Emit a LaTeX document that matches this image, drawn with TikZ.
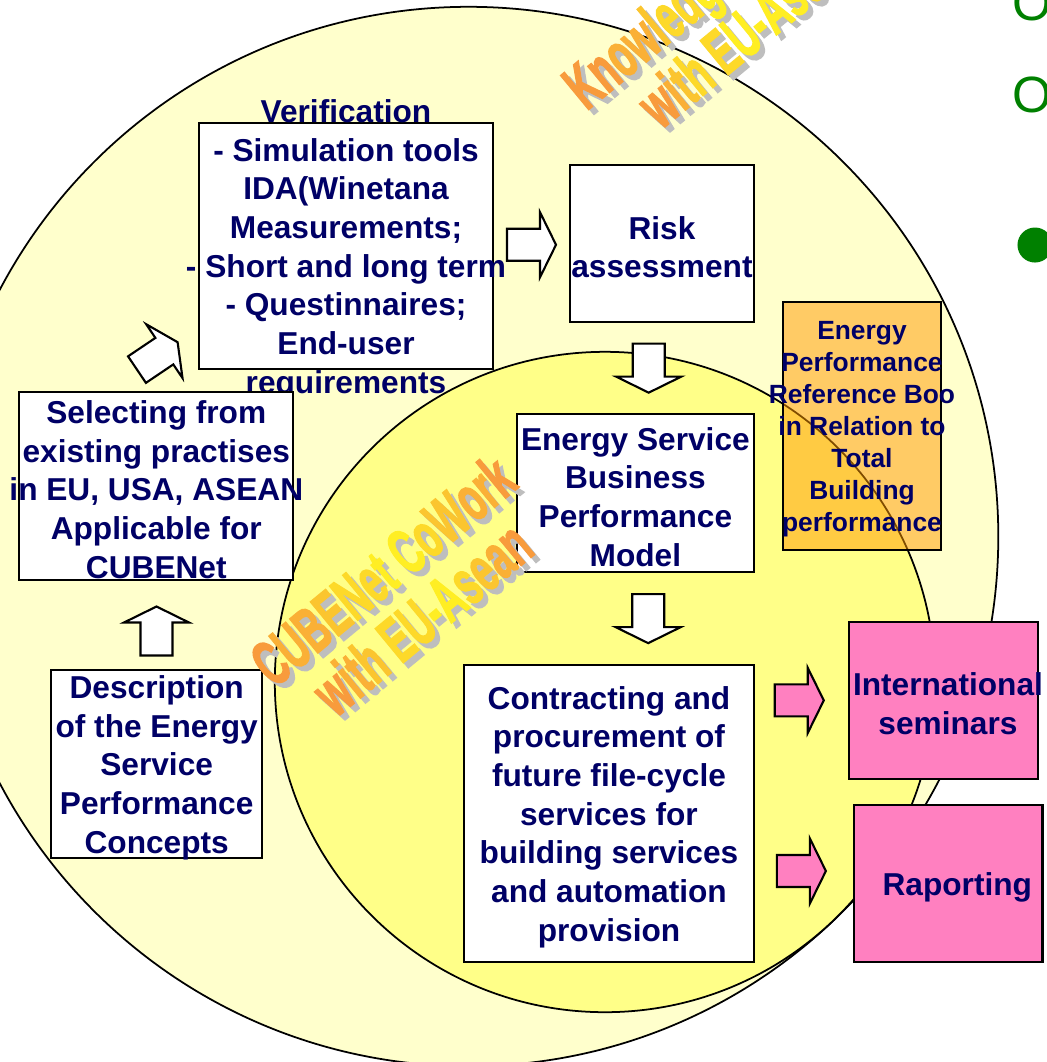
\documentclass[tikz,border=0pt]{standalone}
\usepackage{fontspec}
\setmainfont{Liberation Sans}
\newfontfamily\wmfont{Liberation Sans}[UprightFont=* Bold, FakeBold=2.5]
\usepackage{xcolor}
\usepackage{tikz}
\usetikzlibrary{calc}

\definecolor{navytext}{RGB}{0,0,102}
\definecolor{paleyellow}{RGB}{255,255,204}
\definecolor{midyellow}{RGB}{255,255,136}
\definecolor{pinkbox}{RGB}{255,128,192}
\definecolor{orangebox}{RGB}{255,153,0}
\definecolor{wmorange}{RGB}{248,155,60}
\definecolor{wmyellow}{RGB}{255,238,35}
\definecolor{wmgrey}{RGB}{190,190,190}
\definecolor{slidegreen}{RGB}{0,128,0}
\colorlet{wmc0}{wmyellow}
\colorlet{wmc1}{wmyellow!75!wmorange}
\colorlet{wmc2}{wmyellow!50!wmorange}
\colorlet{wmc3}{wmyellow!25!wmorange}
\colorlet{wmc4}{wmorange}
\newcommand{\wmc}[2]{\textcolor{wmc#1}{#2}}

\tikzstyle{stagebox} = [draw=black, line width=0.6pt, fill=white, inner sep=0pt]
\tikzstyle{outbox} = [stagebox, fill=pinkbox]
\tikzstyle{refbox} = [stagebox, fill=orangebox, fill opacity=0.5]
\tikzstyle{boxtext} = [text=navytext, font=\fontsize{9}{11}\selectfont\bfseries, align=center, inner sep=0pt, fill opacity=1, text opacity=1, yshift=-1pt]
\tikzstyle{smalltext} = [boxtext, font=\fontsize{7.5}{9.1}\selectfont\bfseries]
\tikzstyle{watermark} = [text=wmorange, font=\fontsize{18.2}{17.6}\wmfont, align=center, inner sep=0pt, rotate=39.5, xscale=0.58]
\tikzstyle{wmshade} = [watermark, text=wmgrey]
\tikzstyle{greentext} = [text=slidegreen, font=\fontsize{14.5}{17}\selectfont, inner sep=0pt, anchor=base west]

\tikzset{
  bigarrow/.pic={
    \draw[pic actions, line width=0.6pt] (-24.5,-16) -- (8.5,-16) -- (8.5,-32.5) -- (24.5,0) -- (8.5,32.5) -- (8.5,16) -- (-24.5,16) -- cycle;
  }
}

\begin{document}
\begin{tikzpicture}[x=0.01cm, y=-0.01cm]
    % Fundo
    \useasboundingbox[fill=white] (0,0) rectangle (1047,1062);

    % Circulos
    \draw[fill=paleyellow, line width=0.5pt] (468.6,536.5) circle (5.294cm);
    \draw[fill=midyellow, line width=0.5pt] (605,682) circle (3.3cm);

    % Texto do slide
    \node[greentext] (slideOa) at (1012,20) {O};
    \node[greentext] (slideOb) at (1012,112) {O};
    \fill[slidegreen] (1035,245) circle (0.175cm);

    % Caixas
    \node[stagebox, minimum width=2.94cm, minimum height=2.46cm,
        label={[boxtext]center:{Verification\\- Simulation tools\\IDA(Winetana\\Measurements;\\- Short and long term\\- Questinnaires;\\End-user\\requirements}}] (verif) at (346,246) {};
    \node[stagebox, minimum width=1.84cm, minimum height=1.57cm,
        label={[boxtext]center:{Risk\\assessment}}] (risk) at (662,243.5) {};
    \node[stagebox, minimum width=2.74cm, minimum height=1.88cm,
        label={[boxtext]center:{Selecting from\\existing practises\\in EU, USA, ASEAN\\Applicable for\\CUBENet}}] (select) at (156.3,486) {};
    \node[stagebox, minimum width=2.11cm, minimum height=1.88cm,
        label={[boxtext]center:{Description\\of the Energy\\Service\\Performance\\Concepts}}] (descr) at (156.7,764) {};
    \node[stagebox, minimum width=2.37cm, minimum height=1.58cm,
        label={[boxtext]center:{Energy Service\\Business\\Performance\\Model}}] (esbpm) at (635.4,493.3) {};
    \node[stagebox, minimum width=2.90cm, minimum height=2.97cm,
        label={[boxtext]center:{Contracting and\\procurement of\\future file-cycle\\services for\\building services\\and automation\\provision}}] (contract) at (609,813.5) {};
    \node[refbox, minimum width=1.58cm, minimum height=2.48cm,
        label={[smalltext]center:{Energy\\Performance\\Reference Boo\\in Relation to\\Total\\Building\\performance}}] (refbook) at (862,426) {};
    \node[outbox, minimum width=1.89cm, minimum height=1.57cm,
        label={[boxtext, xshift=1.3pt]center:{International\\seminars}}] (seminars) at (943.4,700.4) {};
    \node[outbox, minimum width=1.88cm, minimum height=1.57cm,
        label={[boxtext, xshift=2.5pt]center:{Raporting}}] (report) at (948.5,883.7) {};

    % Setas
    \pic[fill=white] at ($(verif.east)!0.5!(risk.west)$) {bigarrow};
    \pic[fill=white, rotate=-90] at ($(risk.south)!0.5!(esbpm.north)$) {bigarrow};
    \pic[fill=white, rotate=-90] at ($(esbpm.south)!0.5!(contract.north)+(26,0)$) {bigarrow};
    \pic[fill=white, rotate=90] at ($(descr.north)!0.5!(select.south)+(0,6)$) {bigarrow};
    \pic[fill=white, rotate=34] at ($(select.north)+(1,-35)$) {bigarrow};
    \pic[fill=pinkbox] at ($(seminars.west)+(-48.5,0)$) {bigarrow};
    \pic[fill=pinkbox] at ($(report.west)+(-52,-12.7)$) {bigarrow};

    % Marcas d'agua
    \coordinate (wmtop) at (727,6);
    \coordinate (wmmid) at (402,594);
    \node[wmshade] (wmtopshadow) at ($(wmtop)+(5,5)$) {Knowledge CoWork\\with EU-Asean};
    \node[watermark] (wmtoptext) at (wmtop)
        {\wmc4K\wmc4n\wmc3o\wmc3w\wmc2l\wmc1e\wmc1d\wmc0g\wmc0e \wmc0C\wmc1o\wmc2W\wmc3o\wmc4r\wmc4k\\
         \wmc4w\wmc3i\wmc2t\wmc1h \wmc1E\wmc0U\wmc0-\wmc0A\wmc0s\wmc1e\wmc2a\wmc3n};
    \node[wmshade] (wmmidshadow) at ($(wmmid)+(5,5)$) {CUBENet CoWork\\with EU-Asean};
    \node[watermark] (wmmidtext) at (wmmid)
        {\wmc4C\wmc3U\wmc3B\wmc2E\wmc1N\wmc1e\wmc0t \wmc0C\wmc1o\wmc2W\wmc3o\wmc3r\wmc4k\\
         \wmc4w\wmc3i\wmc3t\wmc2h \wmc1E\wmc1U\wmc0-\wmc0A\wmc1s\wmc2e\wmc3a\wmc4n};
\end{tikzpicture}
\end{document}
